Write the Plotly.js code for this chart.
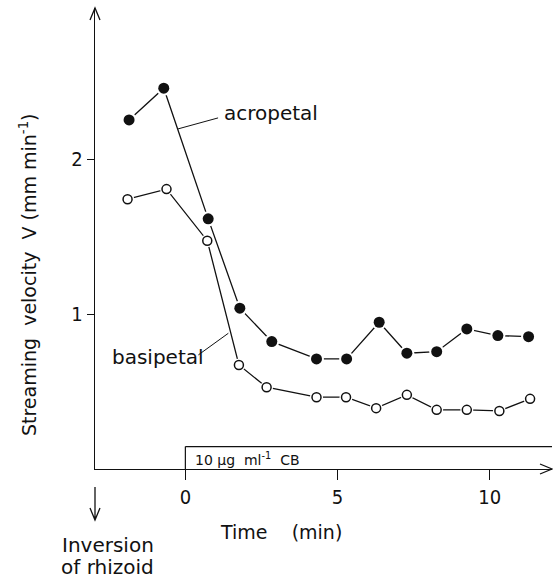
<!DOCTYPE html>
<html>
<head>
<meta charset="utf-8">
<script src="https://cdn.plot.ly/plotly-3.0.1.min.js"></script>
<style>html,body{margin:0;padding:0;background:#fff;}#chart{width:553px;height:582px;}</style>
</head>
<body>
<div id="chart"></div>
<script>
// Time (min) and streaming velocity (mm min^-1)
var acroTime = [-1.85, -0.71, 0.75, 1.79, 2.84, 4.31, 5.30, 6.37, 7.28, 8.26, 9.25, 10.27, 11.28];
var acroVel  = [2.255, 2.460, 1.616, 1.039, 0.823, 0.711, 0.711, 0.948, 0.748, 0.758, 0.905, 0.862, 0.855];
var basiTime = [-1.90, -0.62, 0.72, 1.76, 2.67, 4.31, 5.28, 6.27, 7.28, 8.26, 9.25, 10.32, 11.33];
var basiVel  = [1.743, 1.808, 1.475, 0.672, 0.528, 0.464, 0.464, 0.393, 0.479, 0.382, 0.382, 0.375, 0.453];
var xTicks = [0, 5, 10];
var yTicks = [1, 2];

var FONT = 'DejaVu Sans, Liberation Sans, sans-serif';
var TICKFONT = 'Liberation Sans Narrow, DejaVu Sans Condensed, Liberation Sans, sans-serif';
var INK = '#111';

function lineTrace(x, y) {
  return {x: x, y: y, mode: 'lines', line: {color: INK, width: 1.3}, hoverinfo: 'skip', showlegend: false};
}
function haloTrace(x, y, size) {
  return {x: x, y: y, mode: 'markers', marker: {color: '#fff', size: size, line: {width: 0}}, hoverinfo: 'skip', showlegend: false};
}

var data = [
  lineTrace(acroTime, acroVel),
  lineTrace(basiTime, basiVel),
  haloTrace(acroTime, acroVel, 15),
  haloTrace(basiTime, basiVel, 13),
  {x: acroTime, y: acroVel, mode: 'markers', name: 'acropetal',
   marker: {symbol: 'circle', color: INK, size: 11, line: {width: 0}}, showlegend: false},
  {x: basiTime, y: basiVel, mode: 'markers', name: 'basipetal',
   marker: {symbol: 'circle', color: '#fff', size: 9, line: {color: INK, width: 1.5}}, showlegend: false}
];

function arrowShape(xa, ya, path) {
  return {type: 'path', xref: 'paper', yref: 'paper', xsizemode: 'pixel', ysizemode: 'pixel',
          xanchor: xa, yanchor: ya, path: path, line: {color: INK, width: 1.3}};
}

var layout = {
  width: 553, height: 582,
  margin: {l: 95, r: 1, t: 8, b: 113},
  paper_bgcolor: '#fff', plot_bgcolor: '#fff',
  showlegend: false,
  xaxis: {
    range: [-2.97, 12.05], tickvals: xTicks, ticktext: xTicks.map(String),
    ticks: 'outside', ticklen: 10, tickwidth: 1.2, tickcolor: INK,
    showline: true, linecolor: INK, linewidth: 1.3,
    showgrid: false, zeroline: false,
    tickfont: {family: TICKFONT, size: 20, color: INK}
  },
  yaxis: {
    range: [0, 2.978], tickvals: yTicks, ticktext: yTicks.map(String),
    ticks: 'outside', ticklen: 7, tickwidth: 1.2, tickcolor: INK,
    showline: true, linecolor: INK, linewidth: 1.3,
    showgrid: false, zeroline: false,
    tickfont: {family: TICKFONT, size: 20, color: INK}
  },
  shapes: [
    // CB application bar
    {type: 'line', xref: 'x', yref: 'y', x0: 0, x1: 0, y0: 0, y1: 0.145, line: {color: INK, width: 1.2}},
    {type: 'line', xref: 'x', yref: 'y', x0: 0, x1: 12.05, y0: 0.145, y1: 0.145, line: {color: INK, width: 1.2}},
    // leader lines
    {type: 'line', xref: 'x', yref: 'y', x0: -0.24, y0: 2.197, x1: 1.075, y1: 2.268, line: {color: INK, width: 1}},
    {type: 'line', xref: 'x', yref: 'y', x0: 0.427, y0: 0.737, x1: 1.413, y1: 0.877, line: {color: INK, width: 1}},
    // axis arrowheads
    arrowShape(0, 1, 'M-5,-12L0,0L5,-12'),
    arrowShape(1, 0, 'M-12,5L0,0L-12,-5'),
    // down arrow (inversion of rhizoid)
    arrowShape(0, -0.1106, 'M0,33L0,0M-5,12L0,0L5,12')
  ],
  annotations: [
    {xref: 'x', yref: 'y', x: 1.196, y: 2.298, xanchor: 'left', yanchor: 'middle', showarrow: false,
     text: 'acropetal', font: {family: FONT, size: 20, color: INK}},
    {xref: 'x', yref: 'y', x: -2.47, y: 0.726, xanchor: 'left', yanchor: 'middle', showarrow: false,
     text: 'basipetal', font: {family: FONT, size: 20, color: INK}},
    {xref: 'x', yref: 'y', x: 0.263, y: 0.062, xanchor: 'left', yanchor: 'middle', showarrow: false,
     text: '10\u00a0\u03bcg\u00a0\u00a0ml<sup>-1</sup>\u00a0\u00a0CB', font: {family: FONT, size: 14, color: INK}},
    {xref: 'paper', yref: 'paper', x: -0.1463, y: 0.421, xanchor: 'center', yanchor: 'middle', showarrow: false,
     textangle: -90, text: 'Streaming\u00a0\u00a0velocity\u00a0\u00a0V\u00a0(mm\u00a0min<sup>-1</sup>)',
     font: {family: FONT, size: 19, color: INK}},
    {xref: 'paper', yref: 'paper', x: 0.406, y: -0.1367, xanchor: 'center', yanchor: 'middle', showarrow: false,
     text: 'Time\u00a0\u00a0\u00a0\u00a0(min)', font: {family: FONT, size: 19, color: INK}},
    {xref: 'paper', yref: 'paper', x: 0.0284, y: -0.1649, xanchor: 'center', yanchor: 'middle', showarrow: false,
     text: 'Inversion', font: {family: FONT, size: 20, color: INK}},
    {xref: 'paper', yref: 'paper', x: 0.0284, y: -0.2126, xanchor: 'center', yanchor: 'middle', showarrow: false,
     text: 'of\u00a0rhizoid', font: {family: FONT, size: 20, color: INK}}
  ]
};

Plotly.newPlot('chart', data, layout, {displayModeBar: false, staticPlot: true});
</script>
</body>
</html>
